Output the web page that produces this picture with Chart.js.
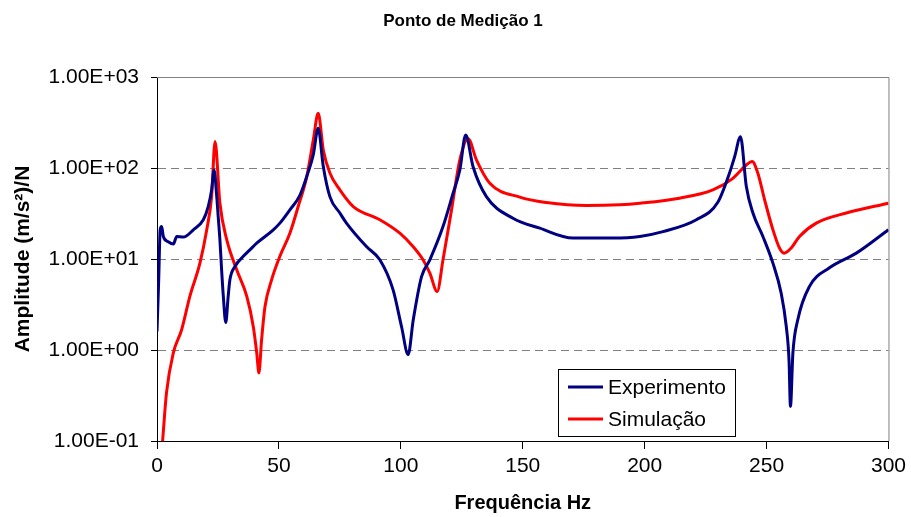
<!DOCTYPE html>
<html>
<head>
<meta charset="utf-8">
<script src="https://cdn.jsdelivr.net/npm/chart.js@4"></script>
<style>
  html, body { margin: 0; padding: 0; background: #ffffff; }
  canvas { display: block; }
</style>
</head>
<body>
<canvas id="c" width="911" height="517"></canvas>
<script>
// ---- Data ----
const chartTitle = 'Ponto de Medição 1';
const xAxisTitle = 'Frequência Hz';
const yAxisTitle = 'Amplitude (m/s²)/N';
const seriesNames = ['Experimento', 'Simulação'];

const xTickValues = [0, 50, 100, 150, 200, 250, 300];
const yTickValues = [0.1, 1, 10, 100, 1000];
const yTickLabels = ['1.00E-01', '1.00E+00', '1.00E+01', '1.00E+02', '1.00E+03'];

const expFreq = [0, 0.7, 1.3, 1.9, 2.6, 4.6, 6.7, 8.1, 10.8, 14.9, 19, 21, 22.4, 23.4, 24.5, 25.1, 25.8, 26.5, 27.2, 28.2,
  29.2, 29.9, 32, 35.4, 38.1, 41, 47.7, 50.4, 54.5, 58.6, 62, 64.1, 66.1, 68.2, 70.9, 75, 77.7, 85.9, 91.4, 96.8,
  100.3, 103, 105.1, 108.5, 111.9, 117.3, 121.4, 124.2, 126.6, 129.6, 135.1, 146, 157, 170.6, 187, 198, 207.5, 221.2,
  230, 234.8, 236.9, 239.3, 241.7, 244.4, 248.5, 252.6, 256, 258.1, 259.2, 259.8, 260.8, 262.8, 267.6, 275.8, 286.8, 300];
const expAmp = [1.6, 5.9, 21, 22.7, 17.7, 15.5, 14.6, 17.7, 17.4, 20.9, 27, 37.7, 57.5, 95, 48.5, 29.3, 16.3, 7.6, 3.9, 2.0,
  3.9, 5.9, 8.3, 10.7, 12.6, 15, 20.9, 24.8, 34.7, 50, 90, 140, 273, 104, 48.5, 32, 24.8, 13.7, 9.8, 4.6,
  1.8, 0.89, 2.15, 6.4, 9.8, 22.7, 52.5, 95, 230, 104, 48.5, 28, 21.8, 17, 17, 17.7, 20, 27,
  42, 88, 133, 220, 62.5, 32, 17.7, 9, 4.2, 1.8, 0.78, 0.24, 0.93, 2.15, 5, 8, 11.6, 21];

const simFreq = [2.3, 3.9, 6.7, 10.1, 13.5, 17.6, 20.4, 22.4, 23.8, 25.8, 28.6, 32.7, 36.8, 39.5, 40.9, 41.8, 42.9, 44.3,
  47, 50.4, 54.5, 57.9, 61.4, 64.1, 66.1, 68.2, 70.9, 75, 80.5, 91.4, 99.6, 105, 109.1, 111.9, 114.9, 117.3, 120.8,
  124.2, 127.6, 131, 136.5, 148.8, 159.7, 176.1, 189.8, 198, 214.3, 228, 236.2, 241.7, 244.1, 246.4, 249.2, 252.6,
  255.3, 257.2, 260.1, 263.5, 270.4, 282.7, 300];
const simAmp = [0.1, 0.34, 0.93, 1.67, 3.9, 9, 21, 48.5, 195, 41, 16.3, 7.6, 3.9, 1.8, 0.93, 0.56, 1.3, 3.0,
  5.9, 10.7, 19.2, 37.7, 80, 203, 400, 158, 88, 57.5, 37.7, 27, 19.2, 13.7, 9.8, 7, 4.4, 9.8, 34.7,
  123, 210, 123, 68, 47.8, 41.7, 38.6, 39.4, 41, 46.6, 57.5, 77, 108, 118, 88, 44.7, 21,
  13.2, 11.6, 13.2, 17.7, 24.8, 32, 41];

const seriesColors = ['#000080', '#FF0000'];

// ---- Build chart ----
const toPoints = (xs, ys) => xs.map((x, i) => ({ x: x, y: ys[i] }));
const FONT = "'Liberation Sans', Arial, Helvetica, sans-serif";

const frame = {
  id: 'frame',
  beforeDatasetsDraw(chart) {
    const { ctx, chartArea: a } = chart;
    ctx.save();
    ctx.strokeStyle = '#808080';
    ctx.lineWidth = 1;
    ctx.setLineDash([]);
    ctx.beginPath();
    ctx.moveTo(a.left, a.top + 0.5);
    ctx.lineTo(a.right + 0.5, a.top + 0.5);
    ctx.lineTo(a.right + 0.5, a.bottom);
    ctx.stroke();
    ctx.restore();
  },
  afterDraw(chart) {
    const { ctx } = chart;
    ctx.save();
    // title
    ctx.fillStyle = '#000';
    ctx.font = 'bold 17px ' + FONT;
    ctx.textAlign = 'center';
    ctx.textBaseline = 'middle';
    ctx.fillText(chartTitle, 463, 21);
    // legend box
    const bx = 558.5, by = 369.5, bw = 177, bh = 67;
    ctx.fillStyle = '#fff';
    ctx.fillRect(bx, by, bw, bh);
    ctx.strokeStyle = '#000';
    ctx.lineWidth = 1;
    ctx.strokeRect(bx, by, bw, bh);
    const rows = [387, 419];
    chart.data.datasets.forEach((ds, i) => {
      ctx.strokeStyle = ds.borderColor;
      ctx.lineWidth = 3;
      ctx.beginPath();
      ctx.moveTo(568, rows[i]);
      ctx.lineTo(603, rows[i]);
      ctx.stroke();
      ctx.fillStyle = '#000';
      ctx.font = '21px ' + FONT;
      ctx.textAlign = 'left';
      ctx.textBaseline = 'middle';
      ctx.fillText(ds.label, 608, rows[i] + 1);
    });
    ctx.restore();
  }
};

new Chart(document.getElementById('c'), {
  type: 'line',
  data: {
    datasets: [
      { label: seriesNames[0], data: toPoints(expFreq, expAmp), borderColor: seriesColors[0], backgroundColor: seriesColors[0] },
      { label: seriesNames[1], data: toPoints(simFreq, simAmp), borderColor: seriesColors[1], backgroundColor: seriesColors[1] }
    ]
  },
  options: {
    responsive: false,
    animation: false,
    devicePixelRatio: 1,
    layout: { padding: { top: 77, right: 22, bottom: 0, left: 0 } },
    elements: {
      point: { radius: 0, hoverRadius: 0 },
      line: { borderWidth: 3, cubicInterpolationMode: 'monotone' }
    },
    plugins: {
      legend: { display: false },
      title: { display: false },
      tooltip: { enabled: false }
    },
    scales: {
      x: {
        type: 'linear',
        min: 0, max: 300,
        afterBuildTicks: s => { s.ticks = xTickValues.map(v => ({ value: v })); },
        afterFit: s => { s.height = 76; },
        grid: { drawOnChartArea: false, drawTicks: true, tickLength: 8, tickColor: '#000', color: '#000' },
        border: { color: '#000', width: 1 },
        ticks: { color: '#000', font: { family: FONT, size: 21 }, padding: 5, maxRotation: 0 },
        title: { display: true, text: xAxisTitle, color: '#000', font: { family: FONT, size: 20, weight: 'bold' }, padding: { top: 0, bottom: 2 } }
      },
      y: {
        type: 'logarithmic',
        min: 0.1, max: 1000,
        afterBuildTicks: s => { s.ticks = yTickValues.map(v => ({ value: v })); },
        afterFit: s => { s.width = 157; },
        grid: { color: '#808080', tickBorderDash: [], tickColor: '#000', tickLength: 6, lineWidth: 1 },
        border: { color: '#000', width: 1, dash: [8, 5] },
        ticks: {
          color: '#000', font: { family: FONT, size: 21 }, padding: 12,
          callback: (v) => { const i = yTickValues.indexOf(v); return i >= 0 ? yTickLabels[i] : ''; }
        },
        title: { display: true, text: yAxisTitle, color: '#000', font: { family: FONT, size: 21, weight: 'bold' }, padding: { top: 11, bottom: 0 } }
      }
    }
  },
  plugins: [frame]
});
</script>
</body>
</html>
